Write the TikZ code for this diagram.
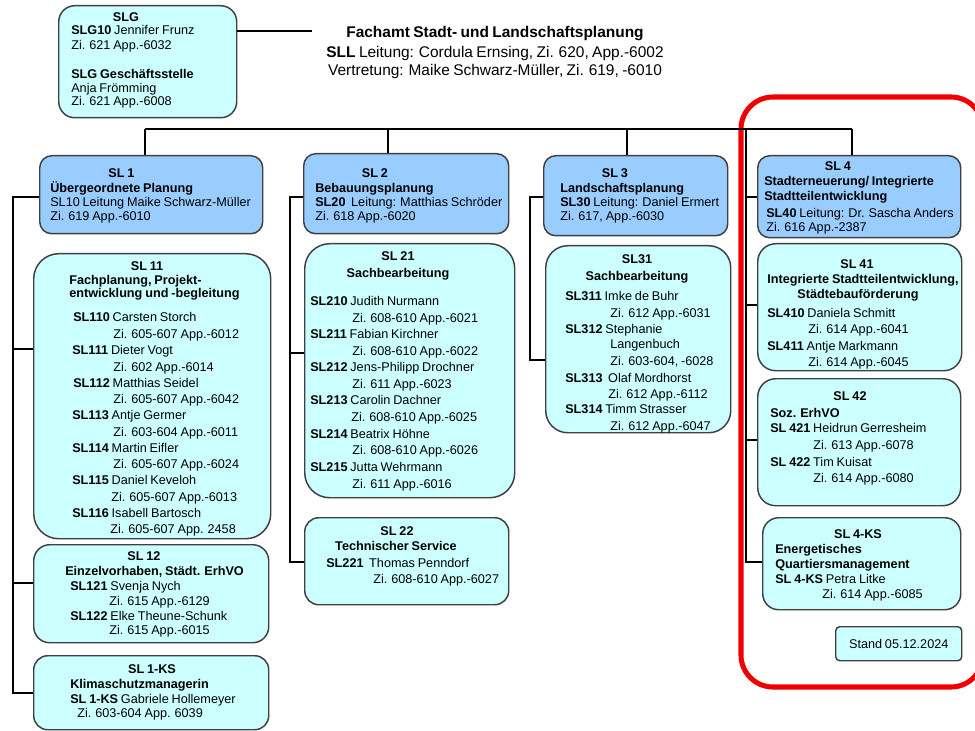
\documentclass[tikz,border=0pt]{standalone}
\usepackage{fontspec}
\setmainfont{Liberation Sans}[WordSpace=0.8]
\definecolor{topfill}{HTML}{99CCFF}
\definecolor{subfill}{HTML}{CCFFFF}
\definecolor{boxline}{HTML}{404040}
\definecolor{frame}{HTML}{F00000}
\newcount\lnc
\newcommand\LL[3]{\global\advance\lnc by 1\relax\node[ln,anchor=base west] (L\the\lnc) at (#1,#2) {#3};}
\newcommand\LC[3]{\global\advance\lnc by 1\relax\node[ln,anchor=base] (L\the\lnc) at (#1,#2) {#3};}
\newcommand\Bx[7]{\node[#1,anchor=north west,minimum width=#5*0.75pt,minimum height=#6*0.75pt,rounded corners=#7*0.75pt] (#2) at (#3,#4) {};}
\tikzset{
  topbox/.style={draw=boxline,fill=topfill,line width=1.1pt,inner sep=0pt},
  subbox/.style={draw=boxline,fill=subfill,line width=1.1pt,inner sep=0pt},
  ln/.style={inner sep=0pt,yshift=-1pt,font=\fontsize{9.5}{11}\selectfont},
  hd/.style={inner sep=0pt,font=\fontsize{11.6}{13}\selectfont},
  conn/.style={draw=black,line width=0.8pt}
}
\begin{document}
\begin{tikzpicture}[x=0.75pt,y=-0.75pt]
\useasboundingbox[fill=white] (0,0) rectangle (975,731);
% red frame
\draw[frame,line width=3.8pt,rounded corners=24pt] (741,97) rectangle (983,687);
% boxes
\Bx{subbox}{slg}{58}{5}{178}{112}{16}
\Bx{topbox}{sl1}{39}{155}{223}{78}{12}
\Bx{subbox}{sl11}{33}{253}{237}{285}{25}
\Bx{subbox}{sl12}{33}{544}{235}{98}{16}
\Bx{subbox}{sl1ks}{33}{655}{235}{74}{14}
\Bx{topbox}{sl2}{303}{153}{205}{80}{12}
\Bx{subbox}{sl21}{304}{243}{210}{254}{25}
\Bx{subbox}{sl22}{304}{517}{204}{87}{14}
\Bx{topbox}{sl3}{543}{155}{184}{80}{12}
\Bx{subbox}{sl31}{545}{245}{185}{187}{22}
\Bx{topbox}{sl4}{757}{155}{203}{82}{12}
\Bx{subbox}{sl41}{757}{243}{204}{127}{18}
\Bx{subbox}{sl42}{757}{378}{203}{127}{18}
\Bx{subbox}{sl4ks}{762}{517}{198}{92}{16}
\node[subbox,anchor=north west,minimum width=126*0.75pt,minimum height=34*0.75pt,rounded corners=3pt,font=\fontsize{9.5}{11}\selectfont] (stand) at (835,626) {Stand 05.12.2024};
% connectors
\coordinate (hd) at (312,31);
\draw[conn] (hd -| slg.east) -- (hd);
\coordinate (v1) at (145,129);
\coordinate (v2) at (388,129);
\coordinate (v3) at (627,129);
\coordinate (v4) at (852,129);
\draw[conn] (v1) -- (v4);
\draw[conn] (v1) -- (v1 |- sl1.north);
\draw[conn] (v2) -- (v2 |- sl2.north);
\draw[conn] (v3) -- (v3 |- sl3.north);
\draw[conn] (v4) -- (v4 |- sl4.north);
% column SL1
\coordinate (a0) at (13,197);
\coordinate (a1) at (13,349);
\coordinate (a2) at (13,583);
\coordinate (a3) at (13,693);
\draw[conn] (a0 -| sl1.west) -- (a0) -- (a3) -- (a3 -| sl1ks.west);
\draw[conn] (a1) -- (a1 -| sl11.west);
\draw[conn] (a2) -- (a2 -| sl12.west);
% column SL2
\coordinate (b0) at (290,197);
\coordinate (b1) at (290,353);
\coordinate (b2) at (290,562);
\draw[conn] (b0 -| sl2.west) -- (b0) -- (b2) -- (b2 -| sl22.west);
\draw[conn] (b1) -- (b1 -| sl21.west);
% column SL3
\coordinate (d0) at (530,197);
\coordinate (d1) at (530,360);
\draw[conn] (d0 -| sl3.west) -- (d0) -- (d1) -- (d1 -| sl31.west);
% column SL4
\coordinate (e0) at (746,129);
\coordinate (e1) at (746,197);
\coordinate (e2) at (746,305);
\coordinate (e3) at (746,440);
\coordinate (e4) at (746,562);
\draw[conn] (e0) -- (e4) -- (e4 -| sl4ks.west);
\draw[conn] (e1) -- (e1 -| sl4.west);
\draw[conn] (e2) -- (e2 -| sl41.west);
\draw[conn] (e3) -- (e3 -| sl42.west);
% header
\node[hd,anchor=base] (h1) at (495,38) {\textbf{Fachamt Stadt- und Landschaftsplanung}};
\node[hd,anchor=base] (h2) at (495,58) {\textbf{SLL} Leitung: Cordula Ernsing, Zi. 620, App.-6002};
\node[hd,anchor=base] (h3) at (495,76) {Vertretung: Maike Schwarz-Müller, Zi. 619, -6010};
% SLG
\LC{126}{20}{\textbf{SLG}}
\LL{71}{33}{\textbf{SLG10} Jennifer Frunz}
\LL{71}{48}{Zi. 621 App.-6032}
\LL{71}{77}{\textbf{SLG Geschäftsstelle}}
\LL{71}{91}{Anja Frömming}
\LL{71}{104}{Zi. 621 App.-6008}
% SL1
\LC{121.5}{176}{\textbf{SL 1}}
\LL{50}{191}{\textbf{Übergeordnete Planung}}
\LL{50}{205}{SL10 Leitung Maike Schwarz-Müller}
\LL{50}{219}{Zi. 619 App.-6010}
% SL11
\LC{147}{269}{\textbf{SL 11}}
\LL{69}{283}{\textbf{Fachplanung, Projekt-}}
\LL{69}{296}{\textbf{entwicklung und -begleitung}}
\LL{73}{320}{\textbf{SL110} Carsten Storch}
\LL{113}{337}{Zi. 605-607 App.-6012}
\LL{72}{353}{\textbf{SL111} Dieter Vogt}
\LL{113}{370}{Zi. 602 App.-6014}
\LL{73}{386}{\textbf{SL112} Matthias Seidel}
\LL{113}{402}{Zi. 605-607 App.-6042}
\LL{72}{418}{\textbf{SL113} Antje Germer}
\LL{113}{435}{Zi. 603-604 App.-6011}
\LL{72}{451}{\textbf{SL114} Martin Eifler}
\LL{113}{467}{Zi. 605-607 App.-6024}
\LL{72}{483}{\textbf{SL115} Daniel Keveloh}
\LL{111}{500}{Zi. 605-607 App.-6013}
\LL{72}{516}{\textbf{SL116} Isabell Bartosch}
\LL{110}{532}{Zi. 605-607 App. 2458}
% SL12
\LC{144}{559}{\textbf{SL 12}}
\LL{65}{574}{\textbf{Einzelvorhaben, Städt. ErhVO}}
\LL{70}{589}{\textbf{SL121} Svenja Nych}
\LL{109}{604}{Zi. 615 App.-6129}
\LL{70}{619}{\textbf{SL122} Elke Theune-Schunk}
\LL{109}{633}{Zi. 615 App.-6015}
% SL1-KS
\LC{152}{672}{\textbf{SL 1-KS}}
\LL{70}{687}{\textbf{Klimaschutzmanagerin}}
\LL{70}{702}{\textbf{SL 1-KS} Gabriele Hollemeyer}
\LL{77}{716}{Zi. 603-604 App. 6039}
% SL2
\LC{375}{176}{\textbf{SL 2}}
\LL{315}{191}{\textbf{Bebauungsplanung}}
\LL{315}{205}{\textbf{SL20}\ \ Leitung: Matthias Schröder}
\LL{315}{219}{Zi. 618 App.-6020}
% SL21
\LC{398}{259}{\textbf{SL 21}}
\LC{398}{276}{\textbf{Sachbearbeitung}}
\LL{310}{304}{\textbf{SL210} Judith Nurmann}
\LL{352}{321}{Zi. 608-610 App.-6021}
\LL{310}{337}{\textbf{SL211} Fabian Kirchner}
\LL{352}{354}{Zi. 608-610 App.-6022}
\LL{310}{370}{\textbf{SL212} Jens-Philipp Drochner}
\LL{352}{387}{Zi. 611 App.-6023}
\LL{310}{403}{\textbf{SL213} Carolin Dachner}
\LL{351}{420}{Zi. 608-610 App.-6025}
\LL{310}{437}{\textbf{SL214} Beatrix Höhne}
\LL{352}{453}{Zi. 608-610 App.-6026}
\LL{310}{470}{\textbf{SL215} Jutta Wehrmann}
\LL{352}{487}{Zi. 611 App.-6016}
% SL22
\LC{397}{534}{\textbf{SL 22}}
\LC{396}{549}{\textbf{Technischer Service}}
\LL{326}{566}{\textbf{SL221}\ \ Thomas Penndorf}
\LL{373}{582}{Zi. 608-610 App.-6027}
% SL3
\LC{615}{176}{\textbf{SL 3}}
\LL{560}{191}{\textbf{Landschaftsplanung}}
\LL{560}{205}{\textbf{SL30} Leitung: Daniel Ermert}
\LL{560}{219}{Zi. 617, App.-6030}
% SL31
\LC{637}{262}{\textbf{SL31}}
\LC{637}{279}{\textbf{Sachbearbeitung}}
\LL{565}{299}{\textbf{SL311} Imke de Buhr}
\LL{610}{316}{Zi. 612 App.-6031}
\LL{565}{332}{\textbf{SL312} Stephanie}
\LL{610}{347}{Langenbuch}
\LL{610}{364}{Zi. 603-604, -6028}
\LL{565}{381}{\textbf{SL313}\ \ Olaf Mordhorst}
\LL{608}{397}{Zi. 612 App.-6112}
\LL{565}{412}{\textbf{SL314} Timm Strasser}
\LL{610}{429}{Zi. 612 App.-6047}
% SL4
\LC{838}{169}{\textbf{SL 4}}
\LL{764}{184}{\textbf{Stadterneuerung/ Integrierte}}
\LL{764}{199}{\textbf{Stadtteilentwicklung}}
\LL{766}{216}{\textbf{SL40} Leitung: Dr. Sascha Anders}
\LL{766}{230}{Zi. 616 App.-2387}
% SL41
\LC{857}{267}{\textbf{SL 41}}
\LL{767}{282}{\textbf{Integrierte Stadtteilentwicklung,}}
\LC{858}{297}{\textbf{Städtebauförderung}}
\LL{767}{316}{\textbf{SL410} Daniela Schmitt}
\LL{808}{332}{Zi. 614 App.-6041}
\LL{767}{349}{\textbf{SL411} Antje Markmann}
\LL{808}{365}{Zi. 614 App.-6045}
% SL42
\LC{850}{399}{\textbf{SL 42}}
\LL{770}{416}{\textbf{Soz. ErhVO}}
\LL{770}{431}{\textbf{SL 421} Heidrun Gerresheim}
\LL{813}{448}{Zi. 613 App.-6078}
\LL{770}{465}{\textbf{SL 422} Tim Kuisat}
\LL{813}{481}{Zi. 614 App.-6080}
% SL4-KS
\LC{858}{537}{\textbf{SL 4-KS}}
\LL{775}{552}{\textbf{Energetisches}}
\LL{775}{567}{\textbf{Quartiersmanagement}}
\LL{775}{582}{\textbf{SL 4-KS} Petra Litke}
\LL{822}{597}{Zi. 614 App.-6085}
\end{tikzpicture}
\end{document}
